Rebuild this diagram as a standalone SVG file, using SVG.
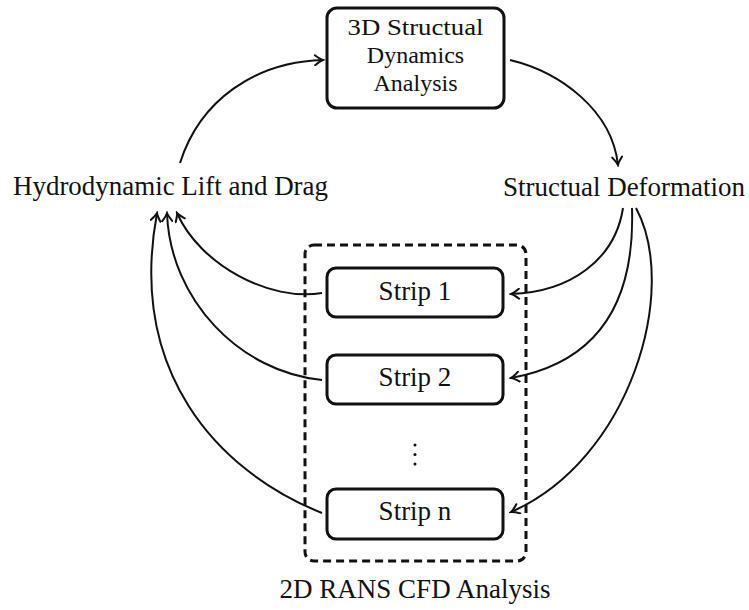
<svg xmlns="http://www.w3.org/2000/svg" width="749" height="610" viewBox="0 0 749 610">
<style>
text{font-family:"Liberation Serif","DejaVu Serif",serif;font-size:27px;fill:#111;text-anchor:middle}
.bt{font-size:24px}
.box{fill:#fff;stroke:#111;stroke-width:3}
.dash{fill:none;stroke:#111;stroke-width:3;stroke-dasharray:8 5}
.arr{fill:none;stroke:#111;stroke-width:2;marker-end:url(#ah)}
</style>
<defs>
<marker id="ah" markerUnits="userSpaceOnUse" viewBox="-10 -6 12 12" markerWidth="12" markerHeight="12" refX="0" refY="0" orient="auto">
<path d="M-8,-5 Q-3,-1 0,0 Q-3,1 -8,5" fill="none" stroke="#111" stroke-width="2" stroke-linecap="round"/>
</marker>
</defs>
<g id="cfd-group">
<rect class="dash" x="305" y="245" width="221" height="316" rx="9"/>
<text x="415" y="598">2D RANS CFD Analysis</text>
</g>
<g id="structural-dynamics">
<rect class="box" x="327" y="8" width="177" height="100" rx="10"/>
<text class="bt" x="415.5" y="35" textLength="136" lengthAdjust="spacingAndGlyphs">3D Structual</text>
<text class="bt" x="415.5" y="63">Dynamics</text>
<text class="bt" x="415.5" y="91">Analysis</text>
</g>
<g id="lift-drag">
<text x="170.5" y="195" textLength="315" lengthAdjust="spacingAndGlyphs">Hydrodynamic Lift and Drag</text>
</g>
<g id="deformation">
<text x="624" y="196">Structual Deformation</text>
</g>
<g id="strip1">
<rect class="box" x="327" y="268" width="176" height="49" rx="9"/>
<text x="415" y="300">Strip 1</text>
</g>
<g id="strip2">
<rect class="box" x="327" y="355" width="176" height="49" rx="9"/>
<text x="415" y="386">Strip 2</text>
</g>
<g id="dots">
<circle cx="415" cy="445" r="1.5" fill="#111"/>
<circle cx="415" cy="454.5" r="1.5" fill="#111"/>
<circle cx="415" cy="464" r="1.5" fill="#111"/>
</g>
<g id="stripn">
<rect class="box" x="327" y="489" width="176" height="50" rx="9"/>
<text x="415" y="520">Strip n</text>
</g>
<g id="connectors">
<path class="arr" d="M180,163 C200,100 255,62 323,60"/>
<path class="arr" d="M510,60 C560,72 612,110 618,165"/>
<path class="arr" d="M322,293 C270,302 200,265 177,213"/>
<path class="arr" d="M322,380 C240,372 170,300 167,213"/>
<path class="arr" d="M322,513 C215,470 128,370 157,213"/>
<path class="arr" d="M623,208 C615,260 570,292 511,294"/>
<path class="arr" d="M632,208 C635,300 600,362 511,378"/>
<path class="arr" d="M636,208 C680,290 630,460 511,512"/>
</g>
</svg>
